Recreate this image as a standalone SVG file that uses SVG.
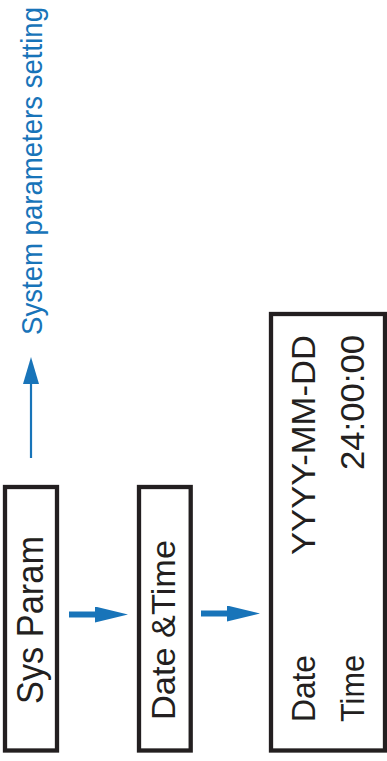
<svg xmlns="http://www.w3.org/2000/svg" width="387" height="761" viewBox="0 0 387 761">
  <style>
    .box { fill: #ffffff; stroke: #231f20; stroke-width: 4.3; }
    .txt { font-family: "Liberation Sans", Arial, sans-serif; fill: #231f20; }
    .lbl { font-family: "Liberation Sans", Arial, sans-serif; fill: #1874b9; }
    .conn { stroke: #1874b9; fill: none; }
  </style>
  <defs>
    <marker id="headH" markerUnits="userSpaceOnUse" viewBox="0 0 33 16" markerWidth="33" markerHeight="16" refX="1" refY="8" orient="auto">
      <path d="M0,0 L33,8 L0,16 Z" fill="#1874b9"/>
    </marker>
    <marker id="headV" markerUnits="userSpaceOnUse" viewBox="0 0 27 16" markerWidth="27" markerHeight="16" refX="1" refY="8" orient="auto">
      <path d="M0,0 L27,8 L0,16 Z" fill="#1874b9"/>
    </marker>
  </defs>

  <g id="connectors">
    <line class="conn" x1="31" y1="458" x2="31" y2="383" stroke-width="2.2" marker-end="url(#headV)"/>
    <line class="conn" x1="69" y1="614.5" x2="96" y2="614.5" stroke-width="6" marker-end="url(#headH)"/>
    <line class="conn" x1="201" y1="613.5" x2="228" y2="613.5" stroke-width="6" marker-end="url(#headH)"/>
  </g>

  <g id="label-system-parameters">
    <text class="lbl" font-size="30" transform="translate(42,335) rotate(-90)" textLength="328" lengthAdjust="spacingAndGlyphs">System parameters setting</text>
  </g>

  <g id="node-sys-param">
    <rect class="box" x="5" y="487" width="52" height="263.5"/>
    <text class="txt" font-size="36" transform="translate(43,704) rotate(-90)" textLength="168" lengthAdjust="spacingAndGlyphs">Sys Param</text>
  </g>

  <g id="node-date-time">
    <rect class="box" x="139" y="487" width="51.7" height="263.5"/>
    <text class="txt" font-size="34" transform="translate(175,720) rotate(-90)" textLength="180" lengthAdjust="spacingAndGlyphs">Date &amp;Time</text>
  </g>

  <g id="node-date-time-display">
    <rect class="box" x="271" y="314" width="114" height="436.5"/>
    <text class="txt" font-size="34" transform="translate(315,722) rotate(-90)" textLength="67" lengthAdjust="spacingAndGlyphs">Date</text>
    <text class="txt" font-size="34" transform="translate(364,722) rotate(-90)" textLength="67" lengthAdjust="spacingAndGlyphs">Time</text>
    <text class="txt" font-size="34" text-anchor="end" transform="translate(315,335) rotate(-90)" textLength="220" lengthAdjust="spacingAndGlyphs">YYYY-MM-DD</text>
    <text class="txt" font-size="34" text-anchor="end" transform="translate(364,335) rotate(-90)" textLength="135" lengthAdjust="spacingAndGlyphs">24:00:00</text>
  </g>
</svg>
